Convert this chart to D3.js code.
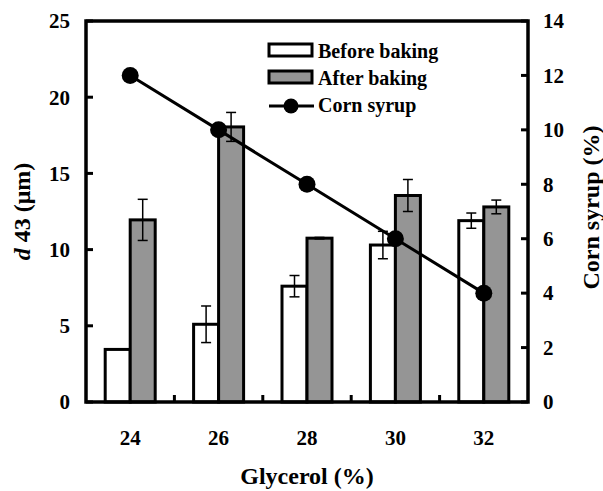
<!DOCTYPE html>
<html>
<head>
<meta charset="utf-8">
<script src="https://cdn.jsdelivr.net/npm/d3@7"></script>
<style>
  body { margin: 0; background: #fff; }
  text { font-family: "Liberation Serif", "Times New Roman", serif; font-weight: bold; }
</style>
</head>
<body>
<svg id="chart"></svg>
<script>
// glycerol levels (x categories)
const glycerol = ["24", "26", "28", "30", "32"];
// d43 (µm) before / after baking, with error bars
const beforeBaking = [3.45, 5.1, 7.6, 10.3, 11.9];
const beforeErr = [0, 1.2, 0.7, 0.9, 0.5];
const afterBaking = [11.95, 18.05, 10.75, 13.55, 12.8];
const afterErr = [1.35, 0.95, 0.05, 1.05, 0.45];
// corn syrup (%) on right axis
const cornSyrup = [12, 10, 8, 6, 4];

const leftTicks = [0, 5, 10, 15, 20, 25];
const rightTicks = [0, 2, 4, 6, 8, 10, 12, 14];

const width = 603, height = 491;
const margin = { top: 21, right: 75, bottom: 89, left: 86 };
const innerW = width - margin.left - margin.right;
const innerH = height - margin.top - margin.bottom;

const svg = d3.select("#chart").attr("width", width).attr("height", height);
const g = svg.append("g").attr("transform", `translate(${margin.left},${margin.top})`);

const x = d3.scaleBand().domain(glycerol).range([0, innerW]).padding(0);
const bw = x.bandwidth();
const xs = d3.scaleBand().domain(["before", "after"]).range([bw / 2 - 25, bw / 2 + 25]).padding(0);
const yL = d3.scaleLinear().domain([0, 25]).range([innerH, 0]);
const yR = d3.scaleLinear().domain([0, 14]).range([innerH, 0]);

const series = [
  { key: "before", values: beforeBaking, err: beforeErr, fill: "#fff" },
  { key: "after", values: afterBaking, err: afterErr, fill: "#959595" }
];

// bars
series.forEach(s => {
  g.selectAll(null)
    .data(glycerol)
    .enter().append("rect")
    .attr("x", (d, i) => x(d) + xs(s.key))
    .attr("y", (d, i) => yL(s.values[i]))
    .attr("width", xs.bandwidth())
    .attr("height", (d, i) => innerH - yL(s.values[i]))
    .attr("fill", s.fill)
    .attr("stroke", "#000")
    .attr("stroke-width", 3);
});

// error bars
series.forEach(s => {
  glycerol.forEach((d, i) => {
    if (!s.err[i]) return;
    const cx = x(d) + xs(s.key) + xs.bandwidth() / 2;
    const y1 = yL(s.values[i] + s.err[i]), y2 = yL(s.values[i] - s.err[i]);
    g.append("line").attr("x1", cx).attr("x2", cx).attr("y1", y1).attr("y2", y2)
      .attr("stroke", "#000").attr("stroke-width", 1.5);
    [y1, y2].forEach(yy => {
      g.append("line").attr("x1", cx - 5).attr("x2", cx + 5).attr("y1", yy).attr("y2", yy)
        .attr("stroke", "#000").attr("stroke-width", 1.5);
    });
  });
});

// corn syrup line
const line = d3.line()
  .x((d, i) => x(glycerol[i]) + bw / 2)
  .y(d => yR(d));
g.append("path").datum(cornSyrup).attr("d", line)
  .attr("fill", "none").attr("stroke", "#000").attr("stroke-width", 3);
g.selectAll("circle.pt")
  .data(cornSyrup)
  .enter().append("circle")
  .attr("class", "pt")
  .attr("cx", (d, i) => x(glycerol[i]) + bw / 2)
  .attr("cy", d => yR(d))
  .attr("r", 8.5)
  .attr("fill", "#000");

// frame
g.append("rect").attr("width", innerW).attr("height", innerH)
  .attr("fill", "none").attr("stroke", "#000").attr("stroke-width", 3.5);

// left axis ticks (inward) and labels
leftTicks.forEach(t => {
  g.append("line").attr("x1", 0).attr("x2", 7).attr("y1", yL(t)).attr("y2", yL(t))
    .attr("stroke", "#000").attr("stroke-width", 3);
  g.append("text").attr("x", -16).attr("y", yL(t)).attr("dy", "0.35em")
    .attr("text-anchor", "end").attr("font-size", "21px").text(t);
});

// right axis
rightTicks.forEach(t => {
  g.append("line").attr("x1", innerW - 7).attr("x2", innerW).attr("y1", yR(t)).attr("y2", yR(t))
    .attr("stroke", "#000").attr("stroke-width", 3);
  g.append("text").attr("x", innerW + 15).attr("y", yR(t)).attr("dy", "0.35em")
    .attr("text-anchor", "start").attr("font-size", "21px").text(t);
});

// x axis: ticks at category boundaries, labels centered
glycerol.slice(1).forEach(d => {
  g.append("line").attr("x1", x(d)).attr("x2", x(d)).attr("y1", innerH).attr("y2", innerH - 7)
    .attr("stroke", "#000").attr("stroke-width", 3);
});
glycerol.forEach(d => {
  g.append("text").attr("x", x(d) + bw / 2).attr("y", innerH + 43)
    .attr("text-anchor", "middle").attr("font-size", "21px").text(d);
});

// axis titles
svg.append("text").attr("x", margin.left + innerW / 2).attr("y", 484)
  .attr("text-anchor", "middle").attr("font-size", "24px").text("Glycerol (%)");

const yl = svg.append("text").attr("transform", `translate(30,${margin.top + innerH / 2}) rotate(-90)`)
  .attr("text-anchor", "middle").attr("font-size", "24px");
yl.append("tspan").attr("font-style", "italic").text("d");
yl.append("tspan").text(" 43 (μm)");

svg.append("text").attr("transform", `translate(599,${margin.top + innerH / 2 - 4}) rotate(-90)`)
  .attr("text-anchor", "middle").attr("font-size", "24px").text("Corn syrup (%)");

// legend
const legend = svg.append("g").attr("transform", "translate(269,44)");
const legendItems = [
  { label: "Before baking", fill: "#fff", type: "rect" },
  { label: "After baking", fill: "#959595", type: "rect" },
  { label: "Corn syrup", type: "line" }
];
legendItems.forEach((it, i) => {
  const yy = i * 27;
  if (it.type === "rect") {
    legend.append("rect").attr("x", 0).attr("y", yy).attr("width", 43).attr("height", 12)
      .attr("fill", it.fill).attr("stroke", "#000").attr("stroke-width", 3);
  } else {
    legend.append("line").attr("x1", 0).attr("x2", 45).attr("y1", yy + 8).attr("y2", yy + 8)
      .attr("stroke", "#000").attr("stroke-width", 3);
    legend.append("circle").attr("cx", 22).attr("cy", yy + 8).attr("r", 7.5).attr("fill", "#000");
  }
  legend.append("text").attr("x", 49).attr("y", yy + 7).attr("dy", "0.35em")
    .attr("font-size", "20px").text(it.label);
});
</script>
</body>
</html>
